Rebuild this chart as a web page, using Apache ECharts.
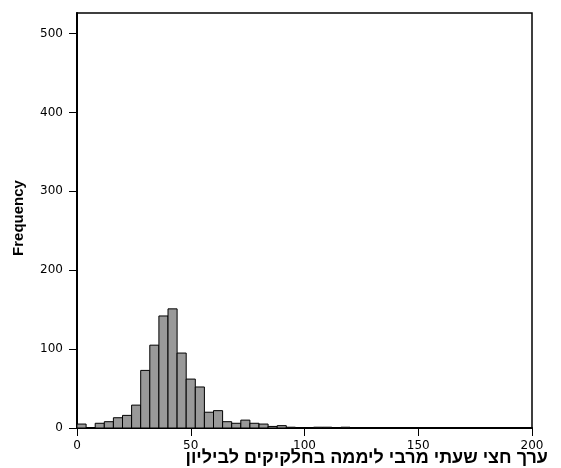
<!DOCTYPE html>
<html>
<head>
<meta charset="utf-8">
<script src="https://cdn.jsdelivr.net/npm/echarts@6/dist/echarts.min.js"></script>
<style>
  html, body { margin: 0; padding: 0; background: #fff; }
  #chart { width: 561px; height: 468px; }
</style>
</head>
<body>
<div id="chart"></div>
<script>
// 直方图数据 - 每组宽度 4
const binWidth = 4;
const binCounts = [5, 0, 6, 8, 13, 16, 29, 73, 105, 142, 151, 95, 62, 52, 20, 22, 8, 6, 10, 6, 5, 2, 3, 1, 0, 0, 1, 1, 0, 1];
const xTicks = [0, 50, 100, 150, 200];
const yTicks = [0, 100, 200, 300, 400, 500];
const xTitle = 'ערך חצי שעתי מרבי ליממה בחלקיקים לביליון';
const yTitle = 'Frequency';

const chart = echarts.init(document.getElementById('chart'));

// 组装 [起点, 终点, 频数]
const histData = [];
binCounts.forEach((count, i) => {
  if (count > 0) histData.push([i * binWidth, (i + 1) * binWidth, count]);
});

const labelFont = { fontFamily: 'DejaVu Sans', fontSize: 12, color: '#000' };

const option = {
  animation: false,
  backgroundColor: '#fff',
  grid: {
    left: 77, right: 29, top: 13, bottom: 40,
    show: true, borderColor: '#000', borderWidth: 1.5
  },
  xAxis: {
    type: 'value', min: 0, max: 200, interval: 50,
    axisLine: { show: true, onZero: false, lineStyle: { color: '#000', width: 2 } },
    axisTick: { show: true, length: 8, lineStyle: { color: '#000', width: 1 } },
    axisLabel: Object.assign({ margin: 12, customValues: xTicks }, labelFont),
    splitLine: { show: false }
  },
  yAxis: {
    type: 'value', min: 0, max: 526, interval: 100,
    axisLine: { show: true, onZero: false, lineStyle: { color: '#000', width: 2 } },
    axisTick: { show: true, length: 8, lineStyle: { color: '#000', width: 1 } },
    axisLabel: Object.assign({ margin: 14, customValues: yTicks }, labelFont),
    splitLine: { show: false }
  },
  series: [{
    type: 'custom',
    data: histData,
    encode: { x: [0, 1], y: 2 },
    renderItem: function (params, api) {
      const p0 = api.coord([api.value(0), 0]);
      const p1 = api.coord([api.value(1), api.value(2)]);
      return {
        type: 'rect',
        shape: { x: p0[0], y: p1[1], width: p1[0] - p0[0], height: p0[1] - p1[1] },
        style: { fill: '#999999', stroke: '#000', lineWidth: 1 }
      };
    }
  }],
  graphic: [
    // 遮住轴顶端多出的刻度
    {
      type: 'rect', z: 100,
      shape: { x: 66, y: 10, width: 10, height: 6 },
      style: { fill: '#fff' }
    },
    {
      type: 'text', right: 13, top: 449,
      style: {
        text: xTitle, fill: '#000',
        font: 'bold 18px "Liberation Sans", "DejaVu Sans", sans-serif'
      }
    },
    {
      type: 'text', x: 19, y: 218, rotation: Math.PI / 2,
      style: {
        text: yTitle, fill: '#000', align: 'center', verticalAlign: 'middle',
        font: 'bold 15px "Liberation Sans", Arial, sans-serif'
      }
    }
  ]
};

chart.setOption(option);
</script>
</body>
</html>
